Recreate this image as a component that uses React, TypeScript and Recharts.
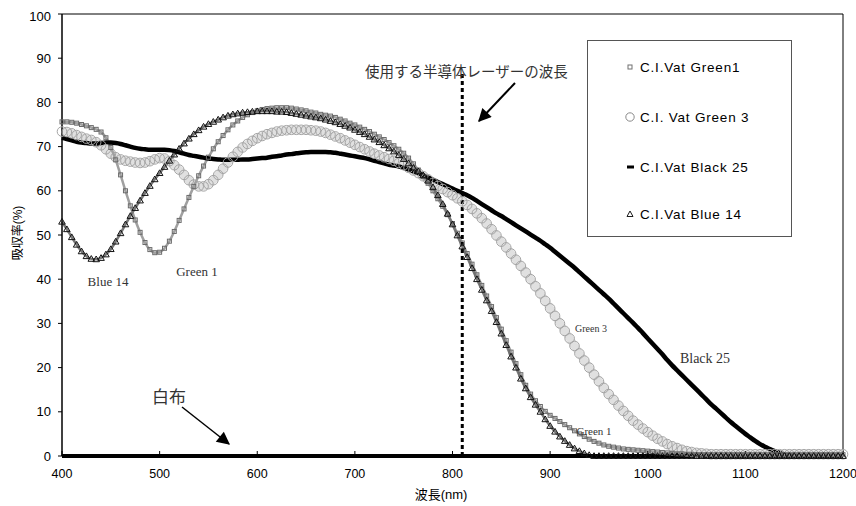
import { Legend, Line, LineChart, ReferenceLine, XAxis, YAxis } from 'recharts'

// 波長 (nm), 5 nm pitch
const wavelengths = Array.from({ length: 161 }, (_, i) => 400 + i * 5)
const xTicks = [400, 500, 600, 700, 800, 900, 1000, 1100, 1200]
const yTicks = [0, 10, 20, 30, 40, 50, 60, 70, 80, 90, 100]
const laserWavelength = 810

const green1 = [
  75.6, 75.6, 75.5, 75.3, 75.0, 74.7, 74.3, 73.9, 73.3, 72.0, 69.8, 67.0, 63.6, 60.0, 56.6, 53.4, 50.6, 48.3, 46.7, 46.0,
  46.1, 47.0, 48.6, 50.8, 53.3, 55.9, 58.5, 61.0, 63.4, 65.6, 67.6, 69.5, 71.1, 72.5, 73.8, 74.9, 75.8, 76.6, 77.2, 77.7,
  78.1, 78.4, 78.6, 78.7, 78.8, 78.8, 78.8, 78.7, 78.5, 78.3, 78.1, 77.8, 77.6, 77.3, 77.1, 76.9, 76.6, 76.2, 75.8, 75.3,
  74.9, 74.4, 73.9, 73.4, 72.8, 72.2, 71.6, 70.9, 70.2, 69.4, 68.5, 67.4, 66.1, 64.7, 63.2, 61.7, 60.0, 58.2, 56.5, 54.6,
  52.6, 50.4, 48.2, 45.8, 43.4, 41.0, 38.6, 36.2, 33.8, 31.3, 28.7, 26.1, 23.5, 20.9, 18.4, 16.0, 14.0, 12.5, 11.2, 10.1,
  9.2, 8.5, 7.8, 7.1, 6.4, 5.7, 5.0, 4.4, 3.8, 3.3, 2.9, 2.5, 2.2, 2.0, 1.8, 1.6, 1.5, 1.4, 1.3, 1.2,
  1.1, 1.0, 0.9, 0.8, 0.7, 0.6, 0.5, 0.5, 0.4, 0.4, 0.3, 0.3, 0.3, 0.3, 0.3, 0.3, 0.3, 0.3, 0.3, 0.3,
  0.3, 0.3, 0.3, 0.3, 0.3, 0.3, 0.3, 0.3, 0.3, 0.3, 0.3, 0.3, 0.3, 0.3, 0.3, 0.3, 0.3, 0.3, 0.3, 0.3, 0.3,
]

const green3 = [
  73.4, 73.3, 73.0, 72.6, 72.2, 71.8, 71.5, 71.0, 70.3, 69.4, 68.4, 67.6, 67.1, 66.8, 66.6, 66.4, 66.3, 66.4, 66.7, 67.1,
  67.4, 67.3, 66.7, 65.8, 64.8, 63.6, 62.4, 61.4, 61.0, 61.0, 61.5, 62.4, 63.6, 65.0, 66.4, 67.7, 68.8, 69.8, 70.6, 71.3,
  71.9, 72.4, 72.8, 73.1, 73.4, 73.6, 73.7, 73.8, 73.8, 73.8, 73.8, 73.7, 73.6, 73.4, 73.1, 72.7, 72.3, 71.9, 71.4, 70.9,
  70.4, 69.9, 69.4, 68.9, 68.4, 68.0, 67.6, 67.2, 66.8, 66.3, 65.8, 65.2, 64.6, 64.0, 63.3, 62.6, 61.8, 61.1, 60.4, 59.7,
  59.0, 58.3, 57.6, 56.8, 55.9, 54.9, 53.8, 52.6, 51.3, 49.9, 48.5, 47.2, 45.8, 44.4, 43.0, 41.5, 40.0, 38.4, 36.8, 35.1,
  33.4, 31.7, 30.0, 28.3, 26.6, 24.9, 23.2, 21.6, 20.0, 18.4, 16.9, 15.4, 14.0, 12.7, 11.4, 10.2, 9.1, 8.0, 7.1, 6.2,
  5.4, 4.6, 3.9, 3.3, 2.7, 2.2, 1.8, 1.4, 1.1, 0.9, 0.7, 0.6, 0.5, 0.4, 0.4, 0.4, 0.4, 0.4, 0.4, 0.4,
  0.4, 0.4, 0.4, 0.4, 0.4, 0.4, 0.4, 0.4, 0.4, 0.4, 0.4, 0.4, 0.4, 0.4, 0.4, 0.4, 0.4, 0.4, 0.4, 0.4, 0.4,
]

const black25 = [
  72.0, 71.7, 71.4, 71.1, 70.9, 70.8, 70.7, 70.7, 70.8, 70.9, 70.9, 70.8, 70.6, 70.3, 70.0, 69.7, 69.5, 69.4, 69.3, 69.3,
  69.3, 69.3, 69.2, 69.0, 68.7, 68.4, 68.1, 67.9, 67.7, 67.5, 67.3, 67.2, 67.1, 67.0, 67.0, 67.0, 67.0, 67.1, 67.1, 67.2,
  67.3, 67.4, 67.5, 67.7, 67.8, 68.0, 68.2, 68.3, 68.5, 68.6, 68.7, 68.8, 68.8, 68.8, 68.8, 68.7, 68.6, 68.4, 68.2, 68.0,
  67.8, 67.6, 67.4, 67.1, 66.8, 66.5, 66.2, 65.9, 65.7, 65.5, 65.2, 64.8, 64.4, 64.0, 63.5, 63.0, 62.5, 62.0, 61.5, 61.0,
  60.5, 60.0, 59.5, 59.0, 58.4, 57.7, 57.0, 56.3, 55.6, 54.9, 54.3, 53.6, 52.9, 52.2, 51.5, 50.8, 50.1, 49.4, 48.7, 47.9,
  47.1, 46.2, 45.3, 44.4, 43.5, 42.6, 41.6, 40.6, 39.6, 38.6, 37.6, 36.6, 35.6, 34.5, 33.4, 32.3, 31.2, 30.1, 29.0, 27.8,
  26.6, 25.4, 24.2, 23.0, 21.7, 20.5, 19.4, 18.3, 17.2, 16.1, 15.0, 13.9, 12.8, 11.7, 10.7, 9.7, 8.7, 7.7, 6.8, 5.9,
  5.0, 4.2, 3.4, 2.7, 2.1, 1.6, 1.1, 0.7, 0.3, 0.1, 0, 0, 0, 0, 0, 0, 0, 0, 0, 0, 0,
]

const blue14 = [
  53.0, 51.3, 49.5, 47.8, 46.3, 45.2, 44.6, 44.5, 44.8, 45.6, 46.8, 48.5, 50.4, 52.4, 54.3, 56.1, 57.8, 59.5, 61.1, 62.6,
  64.0, 65.4, 66.8, 68.2, 69.5, 70.7, 71.8, 72.8, 73.7, 74.5, 75.1, 75.6, 76.1, 76.6, 77.0, 77.3, 77.5, 77.7, 77.8, 77.9,
  78.0, 78.0, 78.0, 78.0, 77.9, 77.9, 77.8, 77.6, 77.4, 77.2, 77.0, 76.8, 76.6, 76.4, 76.1, 75.8, 75.5, 75.1, 74.7, 74.3,
  73.8, 73.3, 72.8, 72.2, 71.6, 71.0, 70.3, 69.6, 68.9, 68.1, 67.2, 66.2, 65.2, 64.4, 63.5, 62.3, 60.8, 59.0, 57.0, 54.8,
  52.4, 49.9, 47.4, 45.0, 42.5, 40.0, 37.6, 35.2, 32.8, 30.3, 27.7, 25.1, 22.5, 20.0, 17.5, 15.3, 13.3, 11.6, 10.0, 8.3,
  6.8, 5.5, 4.4, 3.4, 2.5, 1.7, 1.1, 0.6, 0.2, 0, 0, 0, 0, 0, 0, 0, 0, 0, 0, 0,
  0, 0, 0, 0, 0, 0, 0, 0, 0, 0, 0, 0, 0, 0, 0, 0, 0, 0, 0, 0,
  0, 0, 0, 0, 0, 0, 0, 0, 0, 0, 0, 0, 0, 0, 0, 0, 0, 0, 0, 0, 0,
]

// 白布 (white cloth) sits on 0 across the range
const whiteClothWl = [400, 500, 600, 700, 800, 900, 1000, 1100, 1200]
const whiteCloth = [0, 0, 0, 0, 0, 0, 0, 0, 0]

const rows = wavelengths.map((wl, i) => ({
  wl,
  green1: green1[i],
  green3: green3[i],
  black25: black25[i],
  blue14: blue14[i],
}))
const whiteRows = whiteClothWl.map((wl, i) => ({ wl, white: whiteCloth[i] }))

const W = 848
const H = 496
const sans = "'Liberation Sans', Arial, 'Noto Sans CJK JP', sans-serif"
const serif = "'Liberation Serif', 'Noto Sans CJK JP', serif"

const squareDot = (p: any) => (
  <rect key={`g1-${p.index}`} x={p.cx - 2} y={p.cy - 2} width={4} height={4} fill='none' stroke='#6a6a6a' strokeWidth={1} />
)
const circleDot = (p: any) => (
  <circle key={`g3-${p.index}`} cx={p.cx} cy={p.cy} r={4.8} fill='none' stroke='#a4a4a4' strokeWidth={1} />
)
const triDot = (p: any) => (
  <path
    key={`b14-${p.index}`}
    d={`M${p.cx},${p.cy - 3.3} L${p.cx + 3.3},${p.cy + 2.4} L${p.cx - 3.3},${p.cy + 2.4} Z`}
    fill='none'
    stroke='#111'
    strokeWidth={1}
  />
)

const legendItems = [
  { label: 'C.I.Vat Green1', top: 26, marker: <rect x={3} y={3} width={4} height={4} fill='none' stroke='#707070' /> },
  { label: 'C.I. Vat Green 3', top: 76, marker: <circle cx={5} cy={5} r={4.2} fill='none' stroke='#8a8a8a' /> },
  { label: 'C.I.Vat Black 25', top: 126, marker: <rect x={2} y={3.5} width={7} height={3} fill='#000' /> },
  { label: 'C.I.Vat Blue 14', top: 173, marker: <path d='M5,2 L8,7.5 L2,7.5 Z' fill='none' stroke='#1a1a1a' /> },
]

function LegendBox() {
  return (
    <div
      style={{
        position: 'relative',
        width: 205,
        height: 197,
        border: '1px solid #555',
        background: '#fff',
        boxSizing: 'border-box',
      }}
    >
      {legendItems.map((it) => (
        <div
          key={it.label}
          style={{ position: 'absolute', left: 37, top: it.top - 9, height: 18, display: 'flex', alignItems: 'center' }}
        >
          <svg width={10} height={10} style={{ marginRight: 5 }}>
            {it.marker}
          </svg>
          <span style={{ fontFamily: sans, fontSize: 13.5, letterSpacing: 0.8, color: '#000', whiteSpace: 'nowrap' }}>
            {it.label}
          </span>
        </div>
      ))}
    </div>
  )
}

function Annotations() {
  return (
    <svg width={W} height={H} style={{ position: 'absolute', left: 0, top: 0, pointerEvents: 'none', overflow: 'visible' }}>
      <defs>
        <marker id='ah' viewBox='0 0 10 10' refX='9' refY='5' markerWidth='15' markerHeight='13' markerUnits='userSpaceOnUse' orient='auto'>
          <path d='M0,0 L10,5 L0,10 Z' fill='#000' />
        </marker>
      </defs>
      <text x={357} y={69} fontFamily={serif} fontSize={14.5} fill='#333'>
        使用する半導体レーザーの波長
      </text>
      <line x1={507} y1={75} x2={471} y2={113} stroke='#000' strokeWidth={2} markerEnd='url(#ah)' />
      <text x={144} y={395} fontFamily={serif} fontSize={17} fill='#333'>
        白布
      </text>
      <line x1={174} y1={399} x2={221} y2={436} stroke='#000' strokeWidth={1.5} markerEnd='url(#ah)' />
      <text x={100} y={278} textAnchor='middle' fontFamily={serif} fontSize={13} fill='#333'>
        Blue 14
      </text>
      <text x={189} y={268} textAnchor='middle' fontFamily={serif} fontSize={13} fill='#333'>
        Green 1
      </text>
      <text x={583} y={324} textAnchor='middle' fontFamily={serif} fontSize={10} fill='#333'>
        Green 3
      </text>
      <text x={697} y={355} textAnchor='middle' fontFamily={serif} fontSize={14} fill='#333'>
        Black 25
      </text>
      <text x={586} y={427} textAnchor='middle' fontFamily={serif} fontSize={11} fill='#333'>
        Green 1
      </text>
      <text x={10} y={225} transform='rotate(-90 10 225)' textAnchor='middle' dominantBaseline='central' fontFamily={sans} fontSize={12} fill='#000'>
        吸収率(%)
      </text>
      <text x={433} y={486} textAnchor='middle' dominantBaseline='central' fontFamily={sans} fontSize={13} fill='#000'>
        波長(nm)
      </text>
    </svg>
  )
}

export default function App() {
  return (
    <div style={{ padding: '8px 0 0 8px' }}>
      <style>{'body { margin: 0; } .recharts-wrapper, .recharts-surface { overflow: visible !important; }'}</style>
      <div style={{ position: 'relative', width: W, height: H }}>
        <LineChart width={W} height={H} data={rows} margin={{ top: 6, right: 13, left: 0, bottom: 18 }}>
          <XAxis
            dataKey='wl'
            type='number'
            domain={[400, 1200]}
            ticks={xTicks}
            height={30}
            axisLine={{ stroke: '#000', strokeWidth: 1.5 }}
            tickLine={{ stroke: '#000' }}
            tickSize={-5}
            tickMargin={18}
            tick={{ fill: '#000', fontSize: 12.5, fontFamily: sans }}
            allowDuplicatedCategory={false}
          />
          <YAxis
            type='number'
            domain={[0, 100]}
            ticks={yTicks}
            width={54}
            axisLine={{ stroke: '#000', strokeWidth: 1.5 }}
            tickLine={{ stroke: '#000' }}
            tickSize={4}
            tickMargin={7}
            tick={{ fill: '#000', fontSize: 13, fontFamily: sans }}
          />
          <ReferenceLine y={100} stroke='#000' strokeWidth={1} />
          <ReferenceLine x={1200} stroke='#000' strokeWidth={1} />
          {/* soft bands under the dense markers */}
          <Line dataKey='green3' type='monotone' stroke='#e0e0e0' strokeWidth={8} dot={false} activeDot={false} legendType='none' isAnimationActive={false} />
          <Line dataKey='green3' name='C.I. Vat Green 3' stroke='none' dot={circleDot} activeDot={false} isAnimationActive={false} />
          <Line dataKey='green1' type='monotone' stroke='#a0a0a0' strokeWidth={2.5} dot={false} activeDot={false} legendType='none' isAnimationActive={false} />
          <Line dataKey='green1' name='C.I.Vat Green1' stroke='none' dot={squareDot} activeDot={false} isAnimationActive={false} />
          <Line dataKey='blue14' type='monotone' stroke='#777' strokeWidth={2.5} dot={false} activeDot={false} legendType='none' isAnimationActive={false} />
          <Line dataKey='blue14' name='C.I.Vat Blue 14' stroke='none' dot={triDot} activeDot={false} isAnimationActive={false} />
          <Line dataKey='black25' name='C.I.Vat Black 25' type='monotone' stroke='#000' strokeWidth={4.5} dot={false} activeDot={false} isAnimationActive={false} />
          <Line data={whiteRows} dataKey='white' name='白布' stroke='#000' strokeWidth={4} dot={false} activeDot={false} legendType='none' isAnimationActive={false} />
          <ReferenceLine
            segment={[
              { x: laserWavelength, y: 0 },
              { x: laserWavelength, y: 86.5 },
            ]}
            stroke='#000'
            strokeWidth={3}
            strokeDasharray='4 3'
          />
          <Legend
            layout='vertical'
            align='center'
            verticalAlign='middle'
            content={() => <LegendBox />}
            wrapperStyle={{ left: 579, top: 32, width: 205, height: 197 }}
          />
        </LineChart>
        <Annotations />
      </div>
    </div>
  )
}
